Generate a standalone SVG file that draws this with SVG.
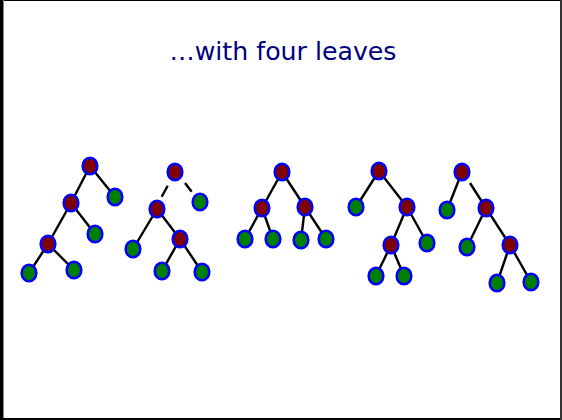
<svg xmlns="http://www.w3.org/2000/svg" width="562" height="420" viewBox="0 0 562 420">
<style>
.i{fill:#800000;stroke:#0000ff;stroke-width:2.6}
.l{fill:#008000;stroke:#0000ff;stroke-width:2.6}
.e line{stroke:#000;stroke-width:2.4}
.t{font-family:"Comic Sans MS","DejaVu Sans",sans-serif;font-size:24px;fill:#000080}
</style>
<rect width="562" height="420" fill="#fff"/>
<line x1="0" y1="0.5" x2="562" y2="0.5" stroke="#000" stroke-width="1"/>
<line x1="1.5" y1="0" x2="1.5" y2="420" stroke="#000" stroke-width="3"/>
<line x1="3.5" y1="0" x2="3.5" y2="418" stroke="#888" stroke-width="1"/>
<line x1="0" y1="419" x2="562" y2="419" stroke="#000" stroke-width="2"/>
<line x1="561" y1="0" x2="561" y2="420" stroke="#333" stroke-width="2"/>
<text class="t" x="283" y="60" text-anchor="middle" textLength="227" lengthAdjust="spacingAndGlyphs">…with four leaves</text>
<g id="connectors" class="e">
<line x1="90" y1="166" x2="115" y2="197"/>
<line x1="90" y1="166" x2="71" y2="203"/>
<line x1="71" y1="203" x2="95" y2="234"/>
<line x1="71" y1="203" x2="48" y2="244"/>
<line x1="48" y1="244" x2="29" y2="273"/>
<line x1="48" y1="244" x2="74" y2="270"/>
<line x1="167.7" y1="185.7" x2="161.7" y2="196.7"/>
<line x1="185" y1="183" x2="191.7" y2="191.7"/>
<line x1="157" y1="209" x2="133" y2="249"/>
<line x1="157" y1="209" x2="180" y2="239"/>
<line x1="180" y1="239" x2="162" y2="271"/>
<line x1="180" y1="239" x2="202" y2="272"/>
<line x1="282" y1="172" x2="262" y2="208"/>
<line x1="282" y1="172" x2="305" y2="207"/>
<line x1="262" y1="208" x2="245" y2="239"/>
<line x1="262" y1="208" x2="273" y2="239"/>
<line x1="305" y1="207" x2="301" y2="240"/>
<line x1="305" y1="207" x2="326" y2="239"/>
<line x1="379" y1="171" x2="356" y2="207"/>
<line x1="379" y1="171" x2="407" y2="207"/>
<line x1="407" y1="207" x2="427" y2="243"/>
<line x1="407" y1="207" x2="391" y2="245"/>
<line x1="391" y1="245" x2="376" y2="276"/>
<line x1="391" y1="245" x2="404" y2="276"/>
<line x1="462" y1="172" x2="447" y2="210"/>
<line x1="470" y1="183" x2="486" y2="208"/>
<line x1="486" y1="208" x2="467" y2="247"/>
<line x1="486" y1="208" x2="510" y2="245"/>
<line x1="510" y1="245" x2="497" y2="283"/>
<line x1="510" y1="245" x2="531" y2="282"/>
</g>
<g id="tree1">
<ellipse id="t1a" class="i" cx="90" cy="166" rx="7.3" ry="8.3"/>
<ellipse id="t1b" class="l" cx="115" cy="197" rx="7.3" ry="8.3"/>
<ellipse id="t1c" class="i" cx="71" cy="203" rx="7.3" ry="8.3"/>
<ellipse id="t1d" class="l" cx="95" cy="234" rx="7.3" ry="8.3"/>
<ellipse id="t1e" class="i" cx="48" cy="244" rx="7.3" ry="8.3"/>
<ellipse id="t1f" class="l" cx="29" cy="273" rx="7.3" ry="8.3"/>
<ellipse id="t1g" class="l" cx="74" cy="270" rx="7.3" ry="8.3"/>
</g>
<g id="tree2">
<ellipse id="t2a" class="i" cx="175" cy="172" rx="7.3" ry="8.3"/>
<ellipse id="t2b" class="l" cx="200" cy="202" rx="7.3" ry="8.3"/>
<ellipse id="t2c" class="i" cx="157" cy="209" rx="7.3" ry="8.3"/>
<ellipse id="t2d" class="l" cx="133" cy="249" rx="7.3" ry="8.3"/>
<ellipse id="t2e" class="i" cx="180" cy="239" rx="7.3" ry="8.3"/>
<ellipse id="t2f" class="l" cx="162" cy="271" rx="7.3" ry="8.3"/>
<ellipse id="t2g" class="l" cx="202" cy="272" rx="7.3" ry="8.3"/>
</g>
<g id="tree3">
<ellipse id="t3a" class="i" cx="282" cy="172" rx="7.3" ry="8.3"/>
<ellipse id="t3b" class="i" cx="262" cy="208" rx="7.3" ry="8.3"/>
<ellipse id="t3c" class="i" cx="305" cy="207" rx="7.3" ry="8.3"/>
<ellipse id="t3d" class="l" cx="245" cy="239" rx="7.3" ry="8.3"/>
<ellipse id="t3e" class="l" cx="273" cy="239" rx="7.3" ry="8.3"/>
<ellipse id="t3f" class="l" cx="301" cy="240" rx="7.3" ry="8.3"/>
<ellipse id="t3g" class="l" cx="326" cy="239" rx="7.3" ry="8.3"/>
</g>
<g id="tree4">
<ellipse id="t4a" class="i" cx="379" cy="171" rx="7.3" ry="8.3"/>
<ellipse id="t4b" class="l" cx="356" cy="207" rx="7.3" ry="8.3"/>
<ellipse id="t4c" class="i" cx="407" cy="207" rx="7.3" ry="8.3"/>
<ellipse id="t4d" class="l" cx="427" cy="243" rx="7.3" ry="8.3"/>
<ellipse id="t4e" class="i" cx="391" cy="245" rx="7.3" ry="8.3"/>
<ellipse id="t4f" class="l" cx="376" cy="276" rx="7.3" ry="8.3"/>
<ellipse id="t4g" class="l" cx="404" cy="276" rx="7.3" ry="8.3"/>
</g>
<g id="tree5">
<ellipse id="t5a" class="i" cx="462" cy="172" rx="7.3" ry="8.3"/>
<ellipse id="t5b" class="l" cx="447" cy="210" rx="7.3" ry="8.3"/>
<ellipse id="t5c" class="i" cx="486" cy="208" rx="7.3" ry="8.3"/>
<ellipse id="t5d" class="l" cx="467" cy="247" rx="7.3" ry="8.3"/>
<ellipse id="t5e" class="i" cx="510" cy="245" rx="7.3" ry="8.3"/>
<ellipse id="t5f" class="l" cx="497" cy="283" rx="7.3" ry="8.3"/>
<ellipse id="t5g" class="l" cx="531" cy="282" rx="7.3" ry="8.3"/>
</g>
</svg>
